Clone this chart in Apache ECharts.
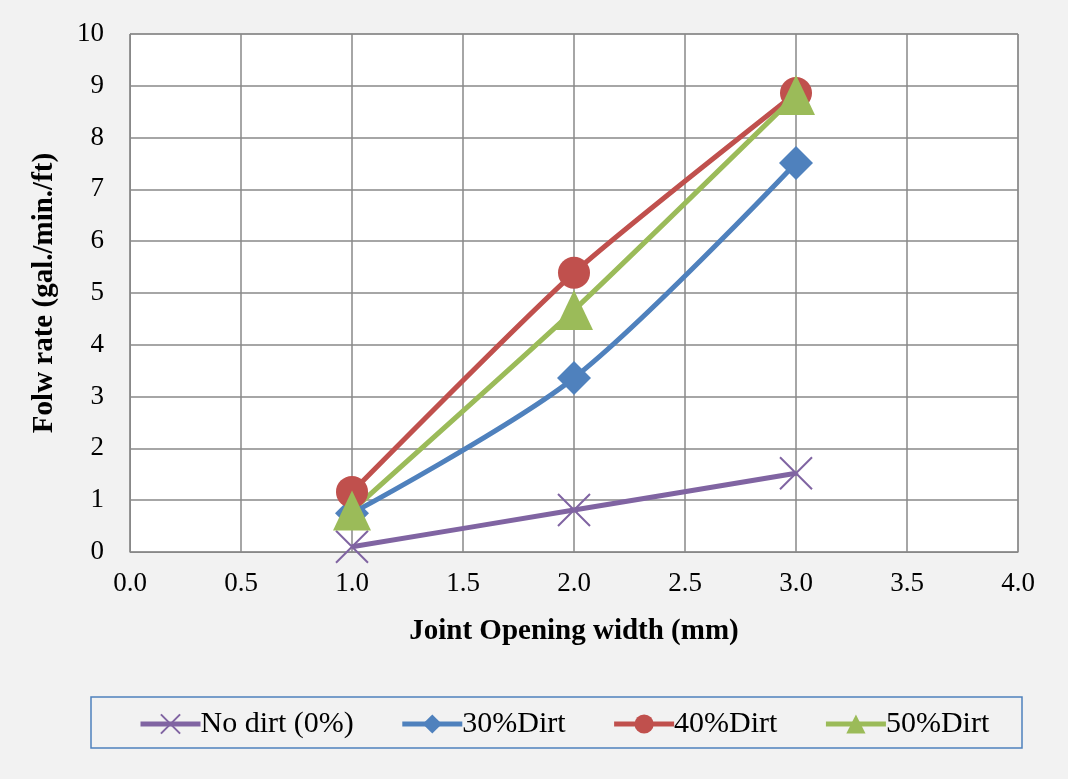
<!DOCTYPE html>
<html><head><meta charset="utf-8">
<script src="https://cdn.jsdelivr.net/npm/echarts@6/dist/echarts.min.js"></script>
<style>html,body{margin:0;padding:0;background:#f2f2f2;}#c{width:1068px;height:779px;}</style>
</head><body><div id="c"></div>
<script>
const xValues = [1.0, 2.0, 3.0];
const noDirt = [0.10, 0.81, 1.52];
const dirt30 = [0.75, 3.36, 7.51];
const dirt40 = [1.16, 5.39, 8.86];
const dirt50 = [0.80, 4.67, 8.82];
const seriesNames = ['No dirt (0%)', '30%Dirt', '40%Dirt', '50%Dirt'];
const colors = ['#8064a2', '#4f81bd', '#c0504d', '#9bbb59'];

const font = 'Liberation Serif, Times New Roman, serif';
const pts = arr => xValues.map((x, i) => [x, arr[i]]);
const chart = echarts.init(document.getElementById('c'));
chart.setOption({
  backgroundColor: '#f2f2f2',
  animation: false,
  graphic: [{type: 'rect', shape: {x: 91, y: 697, width: 931, height: 51},
    style: {fill: 'none', stroke: '#4f81bd', lineWidth: 1.5}, z: 0}],
  grid: {left: 130, right: 50, top: 34, bottom: 227, show: true, backgroundColor: '#ffffff', borderColor: '#888888', borderWidth: 1},
  xAxis: {
    type: 'value', min: 0, max: 4, interval: 0.5,
    name: 'Joint Opening width (mm)', nameLocation: 'middle', nameGap: 65,
    nameTextStyle: {fontFamily: font, fontSize: 29, fontWeight: 'bold', color: '#000'},
    axisLine: {show: true, lineStyle: {color: '#888888'}},
    axisTick: {show: false},
    axisLabel: {fontFamily: font, fontSize: 27, color: '#000', margin: 18, formatter: v => v.toFixed(1)},
    splitLine: {show: true, lineStyle: {color: '#888888', width: 1.5}}
  },
  yAxis: {
    type: 'value', min: 0, max: 10, interval: 1,
    name: 'Folw rate (gal./min./ft)', nameLocation: 'middle', nameGap: 71,
    nameTextStyle: {fontFamily: font, fontSize: 29, fontWeight: 'bold', color: '#000'},
    axisLine: {show: true, lineStyle: {color: '#888888'}},
    axisTick: {show: false},
    axisLabel: {fontFamily: font, fontSize: 27, color: '#000', margin: 26},
    splitLine: {show: true, lineStyle: {color: '#888888', width: 1.5}}
  },
  legend: {
    left: 138, top: 709, padding: 0,
    itemWidth: 60, itemHeight: 24, itemGap: 46,
    lineStyle: {width: 5},
    textStyle: {fontFamily: font, fontSize: 30, color: '#000', padding: [2,0,0,-5]},
    data: seriesNames
  },
  series: [
    {name: seriesNames[0], type: 'line', smooth: 0.2, data: pts(noDirt),
     symbol: 'path://M0,0L10,10M10,0L0,10', symbolSize: 32,
     lineStyle: {color: colors[0], width: 5},
     itemStyle: {color: 'none', borderColor: colors[0], borderWidth: 2}},
    {name: seriesNames[1], type: 'line', smooth: 0.3, data: pts(dirt30),
     symbol: 'diamond', symbolSize: 34,
     lineStyle: {color: colors[1], width: 5}, itemStyle: {color: colors[1]}},
    {name: seriesNames[2], type: 'line', smooth: 0.2, data: pts(dirt40),
     symbol: 'circle', symbolSize: 32,
     lineStyle: {color: colors[2], width: 5}, itemStyle: {color: colors[2]}},
    {name: seriesNames[3], type: 'line', smooth: 0.2, data: pts(dirt50),
     symbol: 'triangle', symbolSize: [38, 40],
     lineStyle: {color: colors[3], width: 5}, itemStyle: {color: colors[3]}}
  ]
});
</script></body></html>
